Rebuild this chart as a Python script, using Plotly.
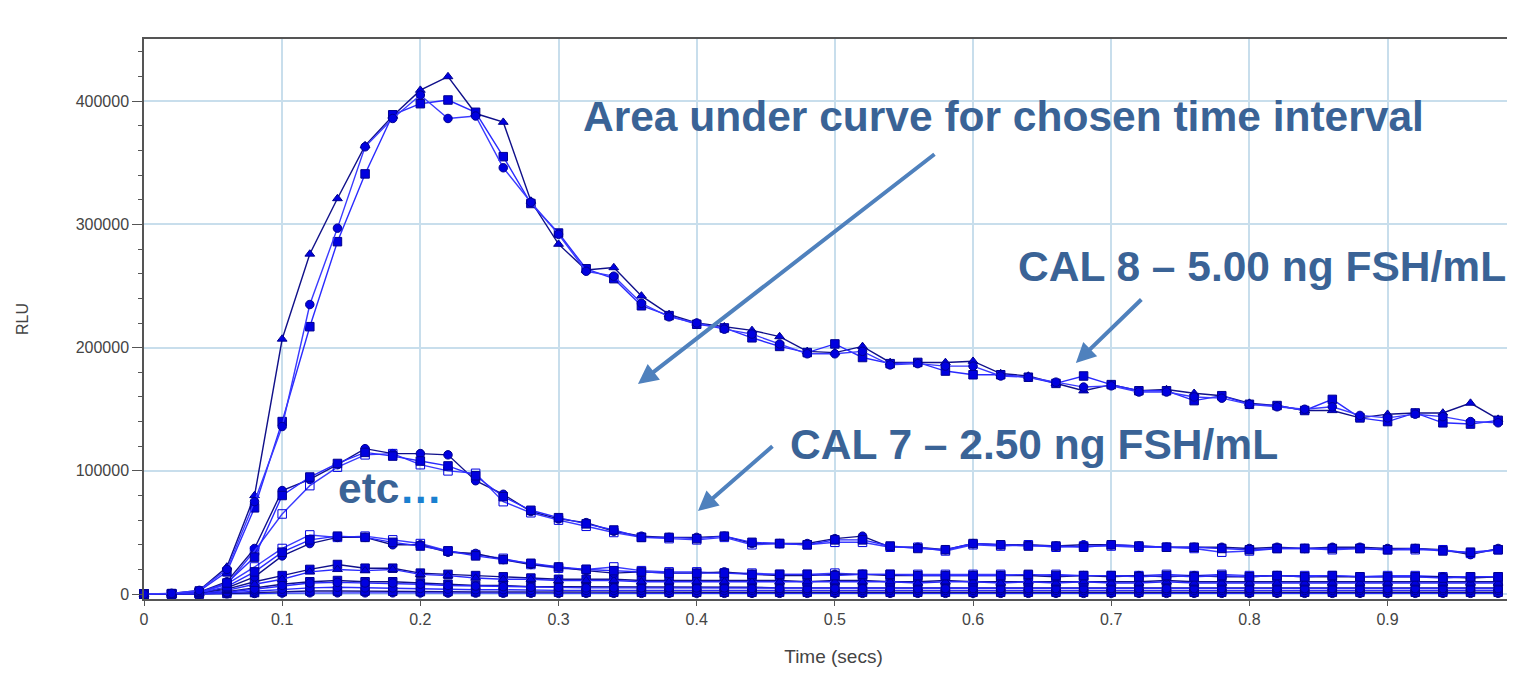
import plotly.graph_objects as go

# Time points (secs)
time_s = [0.00, 0.02, 0.04, 0.06, 0.08, 0.10, 0.12, 0.14, 0.16, 0.18,
          0.20, 0.22, 0.24, 0.26, 0.28, 0.30, 0.32, 0.34, 0.36, 0.38,
          0.40, 0.42, 0.44, 0.46, 0.48, 0.50, 0.52, 0.54, 0.56, 0.58,
          0.60, 0.62, 0.64, 0.66, 0.68, 0.70, 0.72, 0.74, 0.76, 0.78,
          0.80, 0.82, 0.84, 0.86, 0.88, 0.90, 0.92, 0.94, 0.96, 0.98]

# RLU values in thousands
cal8_a = [0, 0.5, 3, 22, 80, 207, 276, 321, 364, 388,
          409, 420, 390, 383, 319, 284, 263, 265, 242, 227,
          220, 217, 214, 209, 197, 196, 201, 188, 188, 188,
          189, 179, 177, 171, 165, 170, 165, 166, 163, 161,
          155, 153, 149, 149, 143, 146, 147, 147, 155, 142]
cal8_b = [0, 0.4, 2.5, 18, 70, 140, 217, 286, 341, 389,
          398, 401, 391, 355, 317, 293, 264, 256, 234, 226,
          219, 216, 208, 201, 196, 203, 192, 187, 188, 181,
          178, 178, 176, 171, 177, 170, 165, 165, 157, 161,
          154, 153, 149, 158, 143, 140, 147, 139, 138, 141]
cal8_c = [0, 0.6, 3, 20, 75, 136, 235, 297, 363, 386,
          405, 386, 388, 346, 318, 292, 262, 258, 236, 225,
          220, 215, 211, 203, 195, 195, 197, 186, 187, 185,
          185, 177, 176, 172, 168, 169, 164, 164, 160, 159,
          154, 152, 150, 152, 145, 143, 146, 144, 140, 139]

cal7_a = [0, 0.3, 1.5, 10, 37, 84, 93, 105, 118, 114,
          114, 113, 92, 81, 67, 61, 58, 51, 47, 46,
          46, 47, 41, 41, 41, 45, 47, 38, 38, 36,
          41, 40, 40, 39, 40, 40, 39, 38, 38, 38,
          37, 38, 37, 38, 38, 37, 37, 36, 32, 37]
cal7_b = [0, 0.2, 1.2, 8, 35, 65, 88, 103, 113, 114,
          105, 100, 98, 75, 66, 60, 55, 50, 46, 45,
          44, 46, 40, 41, 40, 42, 42, 38, 38, 35,
          40, 39, 40, 38, 39, 39, 38, 38, 37, 34,
          35, 37, 37, 36, 37, 36, 36, 36, 33, 36]
cal7_c = [0, 0.3, 1.4, 9, 30, 80, 95, 106, 115, 112,
          108, 104, 96, 79, 68, 62, 57, 52, 46, 46,
          45, 47, 42, 41, 40, 44, 44, 39, 37, 36,
          41, 40, 39, 39, 38, 40, 39, 38, 38, 37,
          36, 37, 37, 37, 37, 36, 37, 35, 34, 36]

cal6_a = [0, 0.2, 1, 8, 22, 37, 48, 46, 47, 44,
          41, 35, 32, 29, 24, 21, 20, 22, 19, 18,
          18, 17, 17, 16, 16, 17, 16, 16, 16, 16,
          16, 16, 15, 16, 15, 15, 15, 16, 15, 16,
          15, 15, 15, 15, 14, 15, 15, 14, 14, 14]
cal6_b = [0, 0.1, 0.8, 5, 14, 31, 41, 46, 46, 40,
          40, 34, 33, 28, 24, 22, 19, 17, 18, 17,
          17, 18, 16, 15, 15, 16, 16, 15, 15, 15,
          15, 15, 15, 14, 15, 14, 15, 14, 15, 14,
          14, 15, 14, 14, 14, 14, 14, 14, 13, 14]
cal6_c = [0, 0.2, 0.9, 6, 18, 34, 44, 47, 46, 42,
          39, 35, 31, 28, 25, 22, 20, 19, 18, 17,
          17, 17, 16, 16, 16, 15, 16, 16, 15, 15,
          15, 15, 16, 15, 15, 15, 14, 15, 14, 15,
          14, 15, 14, 15, 14, 14, 14, 13, 14, 14]

cal5_a = [0, 0.1, 0.5, 4, 10, 15, 20, 24, 21, 21,
          17, 16, 15, 14, 13, 12, 12, 12, 11, 11,
          11, 11, 11, 11, 10, 11, 11, 10, 10, 11,
          10, 10, 10, 10, 10, 10, 10, 11, 10, 10,
          10, 10, 10, 10, 10, 10, 10, 10, 10, 10]
cal5_b = [0, 0.1, 0.4, 3, 8, 12, 18, 20, 19, 20,
          16, 15, 13, 12, 12, 11, 11, 11, 10, 10,
          10, 10, 10, 10, 10, 10, 10, 10, 9, 10,
          10, 9, 10, 9, 10, 9, 9, 10, 9, 9,
          9, 9, 9, 9, 9, 9, 9, 9, 9, 9]

cal4_a = [0, 0, 0.3, 2, 5, 8, 10, 11, 10, 10,
          9, 8, 7, 7, 6, 6, 6, 6, 5.5, 5.5,
          5.5, 5.5, 5.5, 5, 5, 5.5, 5, 5, 5, 5,
          5, 5, 5, 5, 5, 5, 5, 5, 5, 5,
          5, 5, 5, 5, 5, 5, 5, 5, 5, 5]
cal4_b = [0, 0, 0.2, 1.5, 4, 7, 9, 9.5, 9, 9,
          8, 7, 6.5, 6, 5.5, 5.5, 5, 5, 5, 5,
          5, 5, 4.5, 4.5, 4.5, 4.5, 4.5, 4.5, 4.5, 4.5,
          4.5, 4.5, 4.5, 4.5, 4.5, 4.5, 4.5, 4.5, 4.5, 4.5,
          4.5, 4.5, 4.5, 4.5, 4.5, 4.5, 4.5, 4.5, 4.5, 4.5]

cal3_a = [0, 0, 0.1, 1, 2.5, 4, 5, 5.5, 5, 5,
          4.5, 4, 3.5, 3.5, 3, 3, 3, 3, 3, 3,
          3, 3, 3, 3, 3, 3, 3, 3, 3, 3,
          3, 3, 3, 3, 3, 3, 3, 3, 3, 3,
          3, 3, 3, 3, 3, 3, 3, 3, 3, 3]
cal2_a = [0, 0, 0, 0.5, 1.2, 2, 2.5, 2.5, 2.5, 2.3,
          2, 2, 1.8, 1.7, 1.6, 1.5, 1.5, 1.5, 1.5, 1.5,
          1.5, 1.5, 1.5, 1.5, 1.5, 1.5, 1.5, 1.5, 1.5, 1.5,
          1.5, 1.5, 1.5, 1.5, 1.5, 1.5, 1.5, 1.5, 1.5, 1.5,
          1.5, 1.5, 1.5, 1.5, 1.5, 1.5, 1.5, 1.5, 1.5, 1.5]
cal1_a = [0, 0, 0, 0.2, 0.5, 0.8, 1, 1, 1, 1,
          0.9, 0.8, 0.8, 0.7, 0.7, 0.6, 0.6, 0.6, 0.6, 0.6,
          0.6, 0.6, 0.6, 0.6, 0.6, 0.6, 0.6, 0.6, 0.6, 0.6,
          0.6, 0.6, 0.6, 0.6, 0.6, 0.6, 0.6, 0.6, 0.6, 0.6,
          0.6, 0.6, 0.6, 0.6, 0.6, 0.6, 0.6, 0.6, 0.6, 0.6]

series = [
    ("CAL1", cal1_a, "circle", "#2a2aff"),
    ("CAL2", cal2_a, "square", "#10108a"),
    ("CAL3", cal3_a, "circle", "#2a2aff"),
    ("CAL4 a", cal4_a, "square", "#10108a"),
    ("CAL4 b", cal4_b, "circle", "#2a2aff"),
    ("CAL5 a", cal5_a, "square", "#10108a"),
    ("CAL5 b", cal5_b, "triangle-up", "#2a2aff"),
    ("CAL6 a", cal6_a, "square-open", "#3a3aff"),
    ("CAL6 b", cal6_b, "circle", "#10108a"),
    ("CAL6 c", cal6_c, "square", "#2a2aff"),
    ("CAL7 a", cal7_a, "circle", "#10108a"),
    ("CAL7 b", cal7_b, "square-open", "#3a3aff"),
    ("CAL7 c", cal7_c, "square", "#2a2aff"),
    ("CAL8 a", cal8_a, "triangle-up", "#10108a"),
    ("CAL8 b", cal8_b, "square", "#2a2aff"),
    ("CAL8 c", cal8_c, "circle", "#3a3aff"),
]

fig = go.Figure()
for name, vals, sym, lc in series:
    fig.add_trace(go.Scatter(
        x=time_s, y=[v * 1000 for v in vals], mode="lines+markers", name=name,
        line=dict(color=lc, width=1.4),
        marker=dict(symbol=sym, size=8.5, color="#0000e0",
                    line=dict(color="#000090", width=1)),
        cliponaxis=False, showlegend=False))

title_col = "#3a6396"
arrow_col = "#4f81bd"
txt_font = dict(family="Liberation Sans, Arial, sans-serif", size=42.5, color=title_col)

annotations = [
    dict(x=0.6219, y=388000, text="<b>Area under curve for chosen time interval</b>",
         showarrow=False, font=txt_font, xanchor="center", yanchor="middle"),
    dict(x=0.809, y=266200, text="<b>CAL 8 – 5.00 ng FSH/mL</b>",
         showarrow=False, font=txt_font, xanchor="center", yanchor="middle"),
    dict(x=0.6444, y=121750, text="<b>CAL 7 – 2.50 ng FSH/mL</b>",
         showarrow=False, font=txt_font, xanchor="center", yanchor="middle"),
    dict(x=0.1777, y=86000, text="<b>etc<span style='color:#1a80d0'>…</span></b>",
         showarrow=False, font=txt_font, xanchor="center", yanchor="middle"),
    dict(x=0.3575, y=170450, ax=298, ay=-231, text="", showarrow=True,
         arrowhead=2, arrowsize=1, arrowwidth=4, arrowcolor=arrow_col),
    dict(x=0.6744, y=187500, ax=67, ay=-65, text="", showarrow=True,
         arrowhead=2, arrowsize=1, arrowwidth=4, arrowcolor=arrow_col),
    dict(x=0.4009, y=67370, ax=76, ay=-66, text="", showarrow=True,
         arrowhead=2, arrowsize=1, arrowwidth=4, arrowcolor=arrow_col),
]

grid_col = "#c8deec"
tick_font = dict(family="Liberation Sans, Arial, sans-serif", size=16, color="#444444")

fig.update_layout(
    width=1515, height=676,
    margin=dict(l=136, r=0, t=31, b=85),
    paper_bgcolor="white", plot_bgcolor="white",
    annotations=annotations,
    xaxis=dict(range=[0, 0.998], dtick=0.1, tick0=0, showgrid=True, gridcolor=grid_col,
               gridwidth=1.5, zeroline=False, showline=True, linecolor="#555555",
               linewidth=1.5, mirror=True, ticks="outside", ticklen=5, tickcolor="#555555",
               tickfont=tick_font,
               title=dict(text="Time (secs)", font=dict(family="Liberation Sans, Arial, sans-serif",
                                                         size=19, color="#444444"), standoff=23)),
    yaxis=dict(range=[-4000, 450500], tickvals=[0, 100000, 200000, 300000, 400000],
               tickformat="d", showgrid=True, gridcolor=grid_col, gridwidth=1.5,
               zeroline=False, showline=True, linecolor="#555555", linewidth=1.5,
               ticks="outside", ticklen=10, tickcolor="#555555", tickfont=tick_font,
               minor=dict(dtick=20000, tick0=0, ticks="outside", ticklen=4,
                          tickcolor="#555555", showgrid=False),
               title=dict(text="RLU", font=dict(family="Liberation Sans, Arial, sans-serif",
                                                size=16, color="#444444"), standoff=43)),
)

fig.write_html("out.html")
